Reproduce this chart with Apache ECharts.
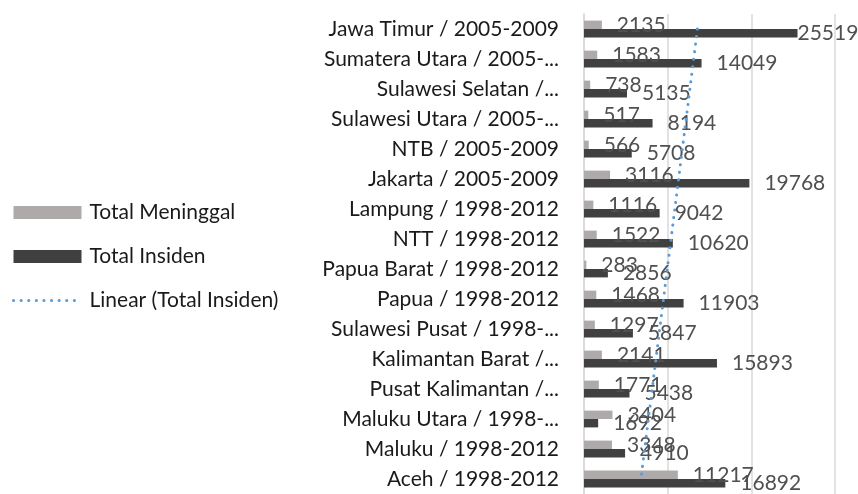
<!DOCTYPE html>
<html>
<head>
<meta charset="utf-8">
<script src="https://cdn.jsdelivr.net/npm/echarts@6/dist/echarts.min.js"></script>
<style>
  html, body { margin: 0; padding: 0; background: #fff; }
  #main { width: 858px; height: 494px; }
</style>
</head>
<body>
<div id="main"></div>
<script>
// categories, top to bottom as in the picture
var categories = [
  'Jawa Timur / 2005-2009', 'Sumatera Utara / 2005-...', 'Sulawesi Selatan /...',
  'Sulawesi Utara / 2005-...', 'NTB / 2005-2009', 'Jakarta / 2005-2009',
  'Lampung / 1998-2012', 'NTT / 1998-2012', 'Papua Barat / 1998-2012',
  'Papua / 1998-2012', 'Sulawesi Pusat / 1998-...', 'Kalimantan Barat /...',
  'Pusat Kalimantan /...', 'Maluku Utara / 1998-...', 'Maluku / 1998-2012',
  'Aceh / 1998-2012'
];
var totalMeninggal = [2135, 1583, 738, 517, 566, 3116, 1116, 1522, 283, 1468, 1297, 2141, 1771, 3404, 3348, 11217];
var totalInsiden = [25519, 14049, 5135, 8194, 5708, 19768, 9042, 10620, 2856, 11903, 5847, 15893, 5438, 1692, 4910, 16892];
// linear trend of Total Insiden, read at the first (top) and last (bottom) category
var trendEnds = [13560, 6800];
var xTicks = [0, 10000, 20000, 30000];

var FONT = 'Lato';
var SIZE = 21;
var dots = { color: '#5b9bd5', width: 3, type: [0.1, 7.5], cap: 'round' };

var chart = echarts.init(document.getElementById('main'));

var n = categories.length;
var insidenData = totalInsiden.map(function (v) {
  // the widest label is pulled in so it stays inside the picture
  return v > 24000 ? { value: v, label: { distance: 0 } } : v;
});

chart.setOption({
  animation: false,
  legend: {
    orient: 'vertical',
    left: 12,
    top: 202,
    padding: 0,
    itemWidth: 68,
    itemHeight: 13,
    itemGap: 23,
    textStyle: { fontFamily: FONT, fontSize: SIZE, color: '#1a1a1a', padding: [0, 0, 0, 3] },
    data: [
      { name: 'Total Meninggal', icon: 'rect' },
      { name: 'Total Insiden', icon: 'rect' },
      { name: 'Linear (Total Insiden)', itemStyle: { opacity: 0 }, lineStyle: dots }
    ]
  },
  grid: { left: 584, right: 23, top: 14, bottom: -2 },
  xAxis: {
    type: 'value',
    min: xTicks[0],
    max: xTicks[xTicks.length - 1],
    interval: xTicks[1] - xTicks[0],
    axisLabel: { show: false },
    axisLine: { show: false },
    axisTick: { show: false },
    splitLine: { lineStyle: { color: '#d9d9d9', width: 1.5 } }
  },
  yAxis: [{
    type: 'category',
    inverse: true,
    data: categories,
    axisTick: { show: false },
    axisLine: { lineStyle: { color: '#d9d9d9', width: 1.5 } },
    axisLabel: { fontFamily: FONT, fontSize: SIZE, color: '#1a1a1a', margin: 25 }
  }, {
    type: 'value',
    show: false,
    inverse: true,
    min: 0,
    max: n
  }],
  series: [{
    name: 'Total Meninggal',
    type: 'bar',
    data: totalMeninggal,
    barGap: '0%',
    barCategoryGap: '44%',
    itemStyle: { color: '#aeaaaa' },
    label: { show: true, position: 'right', distance: 15, fontFamily: FONT, fontSize: SIZE, color: '#505050' }
  }, {
    name: 'Total Insiden',
    type: 'bar',
    data: insidenData,
    barGap: '0%',
    barCategoryGap: '44%',
    itemStyle: { color: '#404040' },
    label: { show: true, position: 'right', distance: 15, fontFamily: FONT, fontSize: SIZE, color: '#505050' }
  }, {
    name: 'Linear (Total Insiden)',
    type: 'line',
    yAxisIndex: 1,
    symbol: 'none',
    z: 5,
    data: [[trendEnds[0], 0.5], [trendEnds[1], n - 0.5]],
    lineStyle: dots
  }]
});
</script>
</body>
</html>
